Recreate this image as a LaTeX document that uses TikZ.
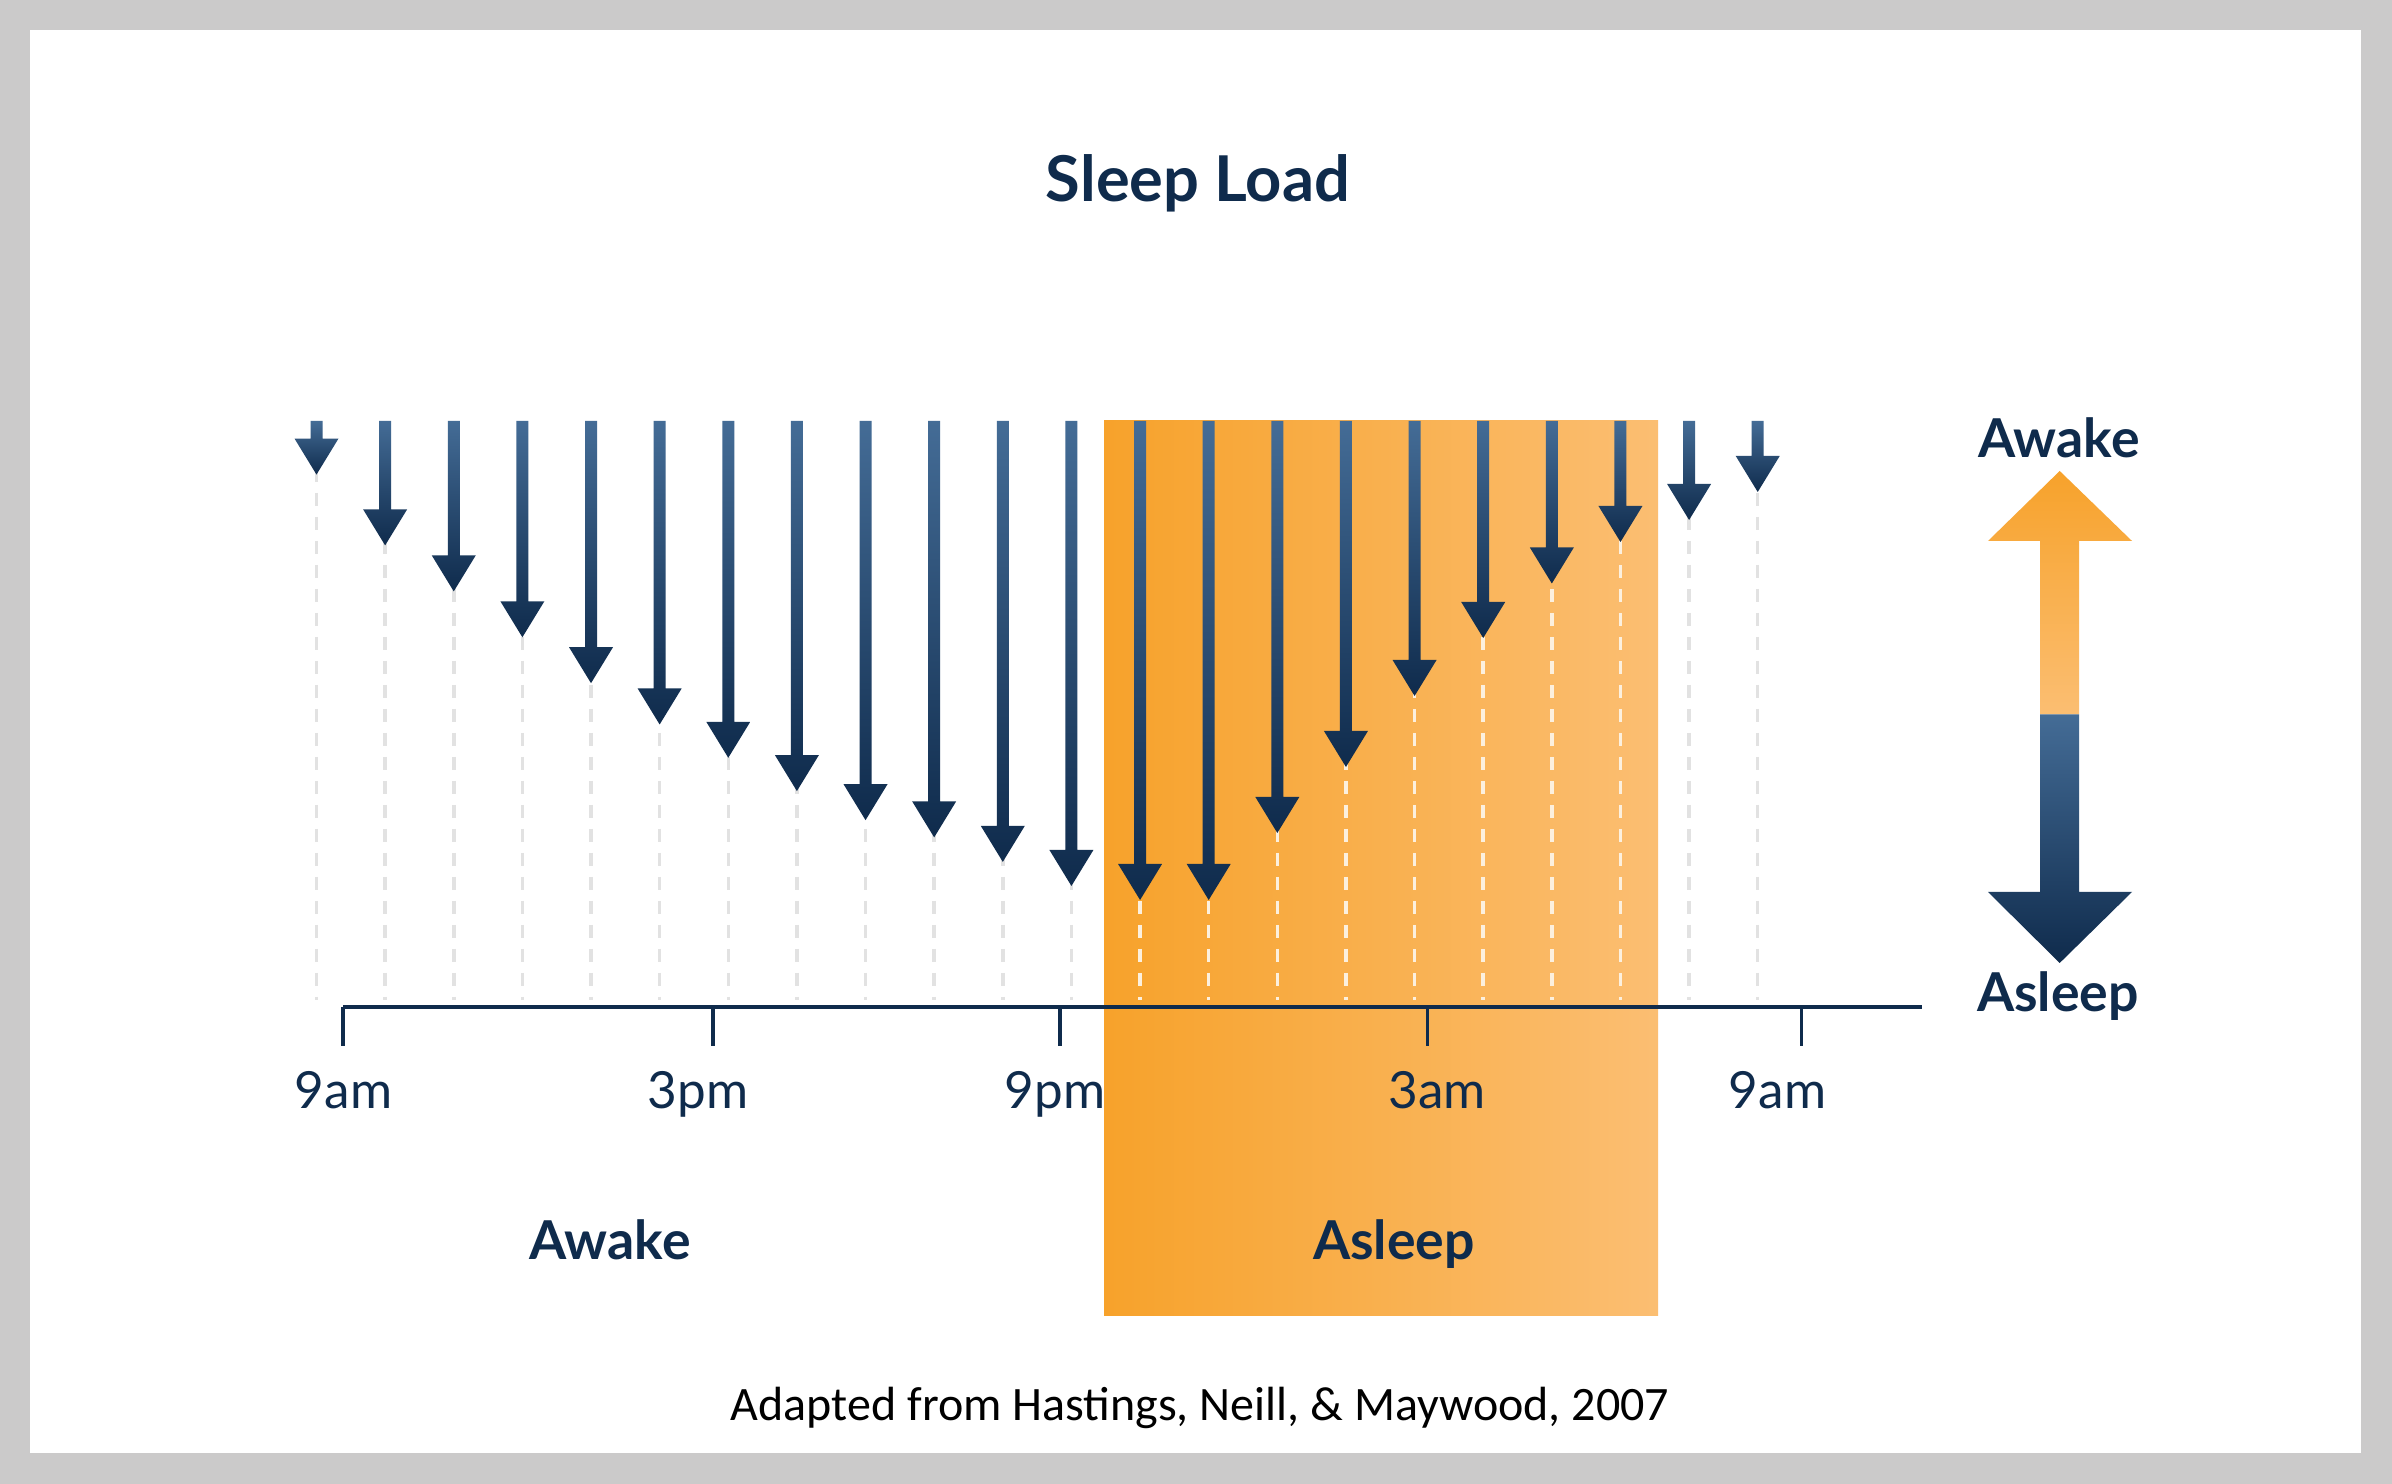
\documentclass[tikz,border=0pt]{standalone}
\usepackage{fontspec}
\setmainfont{Lato}
\newfontfamily\footfont{Carlito}
\definecolor{navy}{RGB}{15,43,76}
\definecolor{arrtop}{RGB}{68,108,150}
\definecolor{orgL}{RGB}{247,162,43}
\definecolor{orgR}{RGB}{251,190,114}
\definecolor{frame}{RGB}{203,202,202}
\definecolor{dashgray}{RGB}{226,226,226}
\definecolor{dashlight}{RGB}{252,240,222}
\tikzset{
  lbl/.style={text=navy, font=\fontsize{12.8pt}{15pt}\selectfont, anchor=base, inner sep=0pt},
  blbl/.style={lbl, font=\bfseries\fontsize{13.4pt}{16pt}\selectfont},
  dashln/.style={line width=0.875pt, dash pattern=on 3.3pt off 2.7pt},
  arrowshade/.style={top color=arrtop, bottom color=navy, draw=none},
  axisln/.style={draw=navy, line width=1pt},
  tickln/.style={draw=navy, line width=0.8pt}
}
\begin{document}
\begin{tikzpicture}[x=0.25pt,y=-0.25pt]
% frame
\fill[frame] (0,0) rectangle (2392,1484);
\fill[white] (30,30) rectangle (2361,1453);
\useasboundingbox (0,0) rectangle (2392,1484);
% sleep band
\shade[left color=orgL, right color=orgR] (1104,421) rectangle (1658,1316);
% dashed guides
\foreach \i in {1,...,22}{
  \pgfmathsetmacro\xx{316.5+68.63*(\i-1)}
  \draw[dashln, dashgray] (\xx,421) -- (\xx,1000);
}
\begin{scope}
  \clip (1104,421) rectangle (1658,1316);
  \foreach \i in {1,...,22}{
    \pgfmathsetmacro\xx{316.5+68.63*(\i-1)}
    \draw[dashln, dashlight] (\xx,421) -- (\xx,1000);
  }
\end{scope}
% load arrows
\foreach \i/\t in {1/474.6, 2/545.4, 3/591.4, 4/637.3, 5/683.2, 6/724.5, 7/757.8, 8/791.1, 9/820.2, 10/837.4, 11/861.9, 12/886, 13/900, 14/900, 15/833, 16/767, 17/696, 18/638, 19/583.5, 20/542, 21/520, 22/492}{
  \pgfmathsetmacro\xx{316.5+68.63*(\i-1)}
  \pgfmathsetmacro\hb{\t-36}
  \shade[arrowshade] ({\xx-6},421) -- ({\xx+6},421) -- ({\xx+6},\hb) -- ({\xx+22},\hb) -- (\xx,\t) -- ({\xx-22},\hb) -- ({\xx-6},\hb) -- cycle;
}
% axis
\coordinate (axL) at (343,1007);
\coordinate (axR) at (1922,1007);
\draw[axisln] (axL) -- (axR);
\foreach \x in {343,713,1060,1427.6,1801.5}{
  \draw[tickln] (\x,1007) -- (\x,1046);
}
% tick labels
\node[lbl] (t1) at (343.5,1109) {9am};
\node[lbl] (t2) at (698,1109) {3pm};
\node[lbl] (t3) at (1055,1109) {9pm};
\node[lbl] (t4) at (1437,1109) {3am};
\node[lbl] (t5) at (1777.6,1109) {9am};
% state labels
\node[blbl] (awk) at (610,1260) {Awake};
\node[blbl] (slp) at (1394,1260) {Asleep};
% title
\node[lbl, font=\bfseries\fontsize{15.8pt}{19pt}\selectfont] (title) at (1198,202) {Sleep Load};
% legend arrow
\shade[top color=orgL, bottom color=orgR] (2040,714.5) -- (2040,541) -- (1988,541) -- (2059.7,471) -- (2132,541) -- (2079,541) -- (2079,714.5) -- cycle;
\shade[top color=arrtop, bottom color=navy] (2040,714.5) -- (2079,714.5) -- (2079,892) -- (2132,892) -- (2059.7,963) -- (1988,892) -- (2040,892) -- cycle;
\node[blbl] (lawk) at (2059,458) {Awake};
\node[blbl] (lslp) at (2058,1012) {Asleep};
% footer
\node[anchor=base, inner sep=0pt, font=\footfont\fontsize{12pt}{14pt}\selectfont] (src) at (1200,1421) {Adapted from Hastings, Neill, \& Maywood, 2007};
\end{tikzpicture}
\end{document}
